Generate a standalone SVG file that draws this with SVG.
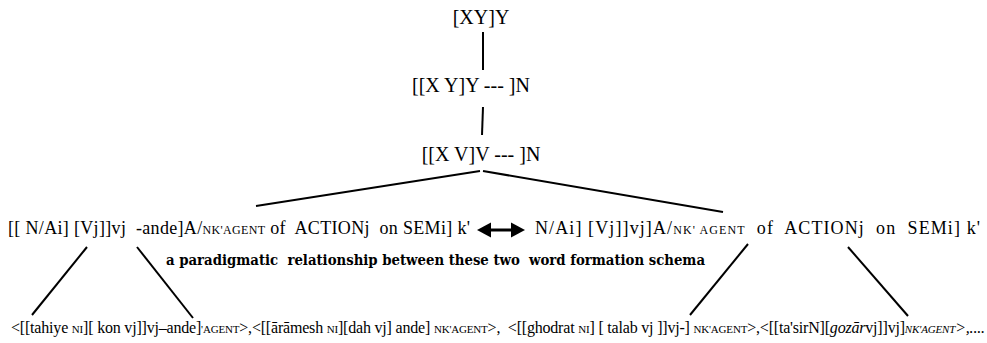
<svg xmlns="http://www.w3.org/2000/svg" width="987" height="343" viewBox="0 0 987 343">
<style>
text{font-family:"Liberation Serif","Times New Roman",serif;fill:#000;white-space:pre}
.top{font-size:20px}
.row{font-size:18px}
.sc{font-size:12px}
.bold{font-family:"DejaVu Serif","Liberation Serif",serif;font-size:14px;font-weight:bold}
.bot{font-size:16px}
.sub{font-size:11px}
.it{font-style:italic}
.ln{stroke:#000;stroke-width:2;fill:none}
</style>
<rect width="987" height="343" fill="#fff"/>
<g id="connectors">
<line class="ln" x1="483" y1="32" x2="483" y2="70"/>
<line class="ln" x1="483" y1="107" x2="482" y2="135"/>
<line class="ln" x1="480" y1="171" x2="256" y2="206"/>
<line class="ln" x1="483" y1="171" x2="723" y2="212"/>
<line class="ln" x1="87" y1="247" x2="32" y2="315"/>
<line class="ln" x1="137" y1="247" x2="193" y2="318"/>
<line class="ln" x1="748" y1="244" x2="690" y2="315"/>
<line class="ln" x1="848" y1="247" x2="908" y2="316"/>
<g id="paradigm-arrow">
<line x1="489" y1="230" x2="513" y2="230" stroke="#000" stroke-width="3"/>
<polygon points="477,230 491,222.5 491,237.5" fill="#000"/>
<polygon points="525,230 511,222.5 511,237.5" fill="#000"/>
</g>
</g>
<g id="node-xyy">
<text class="top" x="481" y="24" text-anchor="middle">[XY]Y</text>
</g>
<g id="node-xyy-n">
<text class="top" x="471" y="92" text-anchor="middle">[[X Y]Y --- ]N</text>
</g>
<g id="node-xvv-n">
<text class="top" x="481" y="161" text-anchor="middle">[[X V]V --- ]N</text>
</g>
<g id="node-schema-left">
<text class="row" x="8" y="234" textLength="462" lengthAdjust="spacing">[[ N/Ai] [Vj]]vj  -ande]A/<tspan class="sc">NK'AGENT</tspan> of  ACTIONj  on SEMi] k'</text>
</g>
<g id="node-schema-right">
<text class="row" x="535" y="234" textLength="445" lengthAdjust="spacing">N/Ai] [Vj]]vj]A/<tspan class="sc">NK' AGENT</tspan>  of  ACTIONj  on  SEMi] k'</text>
</g>
<g id="label-paradigm">
<text class="bold" x="166" y="265" textLength="539" lengthAdjust="spacingAndGlyphs">a paradigmatic  relationship between these two  word formation schema</text>
</g>
<g id="node-examples">
<text class="bot" x="11" y="333" textLength="974" lengthAdjust="spacing">&lt;[[tahiye <tspan class="sub">NI</tspan>][ kon vj]]vj–ande]<tspan class="sub">'AGENT</tspan>&gt;,&lt;[[ārāmesh <tspan class="sub">NI</tspan>][dah vj] ande] <tspan class="sub">NK'AGENT</tspan>&gt;,  &lt;[[ghodrat <tspan class="sub">NI</tspan>] [ talab vj ]]vj-] <tspan class="sub">NK'AGENT</tspan>&gt;,&lt;[[ta'sirN][<tspan class="it">gozār</tspan>vj]]vj]<tspan class="sub it">NK'AGENT</tspan><tspan class="it">&gt;,....</tspan></text>
</g>
</svg>
